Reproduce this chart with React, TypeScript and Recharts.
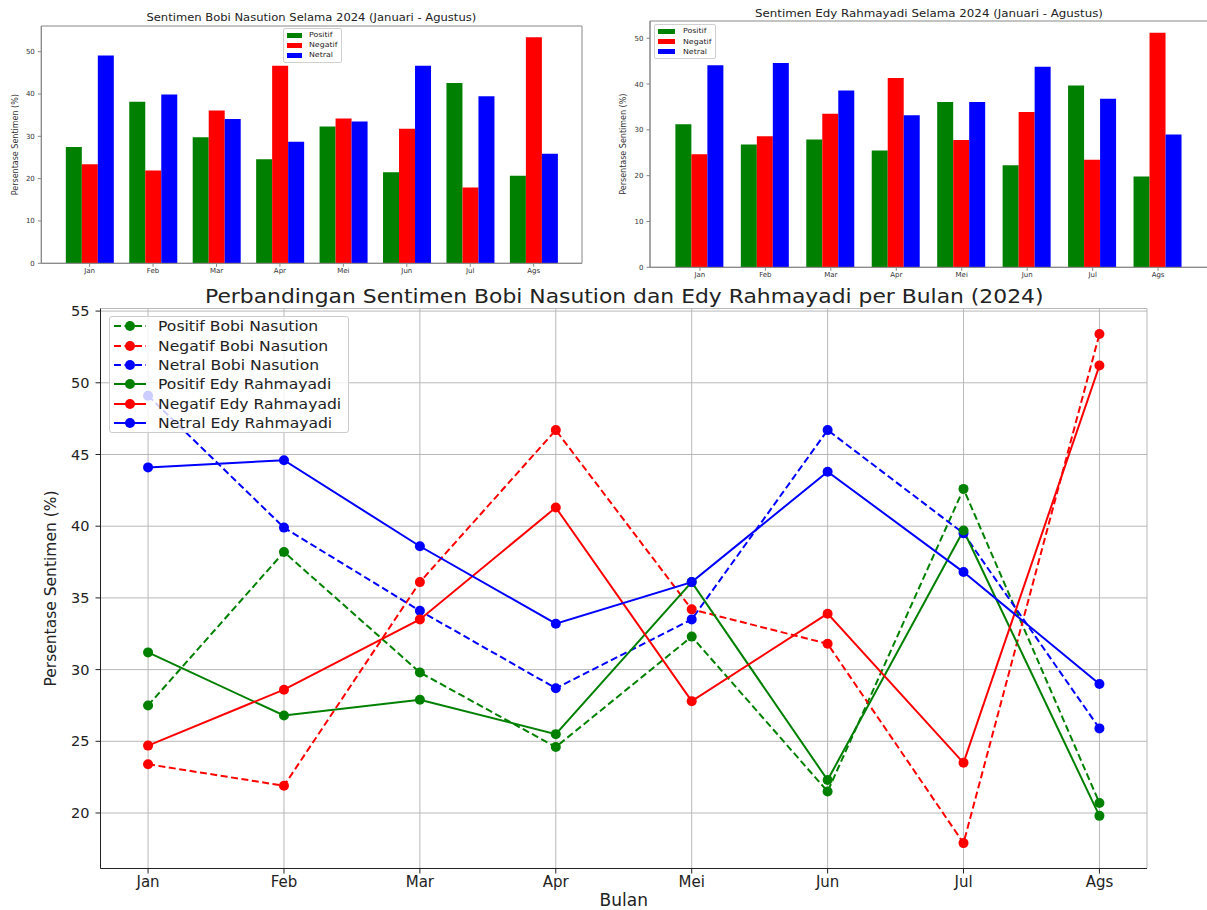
import React from "react";
import {
  BarChart,
  Bar,
  LineChart,
  Line,
  XAxis,
  YAxis,
  CartesianGrid,
  Legend,
} from "recharts";

const MONTHS = ["Jan", "Feb", "Mar", "Apr", "Mei", "Jun", "Jul", "Ags"];

// Bobi Nasution (%)
const BOBI_POSITIF = [27.5, 38.2, 29.8, 24.6, 32.3, 21.5, 42.6, 20.7];
const BOBI_NEGATIF = [23.4, 21.9, 36.1, 46.7, 34.2, 31.8, 17.9, 53.4];
const BOBI_NETRAL = [49.1, 39.9, 34.1, 28.7, 33.5, 46.7, 39.5, 25.9];

// Edy Rahmayadi (%)
const EDY_POSITIF = [31.2, 26.8, 27.9, 25.5, 36.1, 22.3, 39.7, 19.8];
const EDY_NEGATIF = [24.7, 28.6, 33.5, 41.3, 27.8, 33.9, 23.5, 51.2];
const EDY_NETRAL = [44.1, 44.6, 38.6, 33.2, 36.1, 43.8, 36.8, 29.0];

const BAR_TICKS = [0, 10, 20, 30, 40, 50];
const LINE_TICKS = [20, 25, 30, 35, 40, 45, 50, 55];

const FONT = '"DejaVu Sans", sans-serif';
const GREEN = "#008000";
const RED = "#ff0000";
const BLUE = "#0000ff";

const BAR_SERIES = [
  { key: "positif", name: "Positif", color: GREEN },
  { key: "negatif", name: "Negatif", color: RED },
  { key: "netral", name: "Netral", color: BLUE },
];

const LINE_SERIES = [
  { key: "bobiPositif", name: "Positif Bobi Nasution", color: GREEN, dashed: true },
  { key: "bobiNegatif", name: "Negatif Bobi Nasution", color: RED, dashed: true },
  { key: "bobiNetral", name: "Netral Bobi Nasution", color: BLUE, dashed: true },
  { key: "edyPositif", name: "Positif Edy Rahmayadi", color: GREEN, dashed: false },
  { key: "edyNegatif", name: "Negatif Edy Rahmayadi", color: RED, dashed: false },
  { key: "edyNetral", name: "Netral Edy Rahmayadi", color: BLUE, dashed: false },
];

const barRows = (p: number[], n: number[], r: number[]) =>
  MONTHS.map((m, i) => ({ month: m, positif: p[i], negatif: n[i], netral: r[i] }));

const bobiRows = barRows(BOBI_POSITIF, BOBI_NEGATIF, BOBI_NETRAL);
const edyRows = barRows(EDY_POSITIF, EDY_NEGATIF, EDY_NETRAL);

const lineRows = MONTHS.map((m, i) => ({
  idx: i,
  bobiPositif: BOBI_POSITIF[i],
  bobiNegatif: BOBI_NEGATIF[i],
  bobiNetral: BOBI_NETRAL[i],
  edyPositif: EDY_POSITIF[i],
  edyNegatif: EDY_NEGATIF[i],
  edyNetral: EDY_NETRAL[i],
}));

// plot frame (matplotlib-style spines) from the chart's own offset
const frameX = ({ offset }: any) => [offset.left, offset.left + offset.width];
const frameY = ({ offset }: any) => [offset.top, offset.top + offset.height];

function BarLegend({ fontSize, swatchW, rowH, gap, width }: any) {
  return (
    <div
      style={{
        boxSizing: "border-box",
        width,
        border: "1px solid #d0d0d0",
        borderRadius: 2,
        background: "rgba(255,255,255,0.8)",
        padding: "1px 4px 1px 3px",
        fontFamily: FONT,
        fontSize,
        color: "#222",
      }}
    >
      {BAR_SERIES.map((s) => (
        <div key={s.key} style={{ display: "flex", alignItems: "center", height: rowH }}>
          <span style={{ width: swatchW, height: 5, background: s.color, marginRight: gap }} />
          <span style={{ display: "inline-block", transform: "scaleX(1.12)", transformOrigin: "left center" }}>
            {s.name}
          </span>
        </div>
      ))}
    </div>
  );
}

function LineLegend() {
  return (
    <div
      style={{
        boxSizing: "border-box",
        width: 240,
        border: "1px solid #cccccc",
        borderRadius: 3,
        background: "rgba(255,255,255,0.8)",
        padding: "0px 6px 0px 4px",
        fontFamily: FONT,
        fontSize: 14.5,
        color: "#222",
      }}
    >
      {LINE_SERIES.map((s) => (
        <div key={s.key} style={{ display: "flex", alignItems: "center", height: 19.3 }}>
          <svg width={32} height={12} style={{ marginRight: 12, flex: "none" }}>
            <line
              x1={0}
              y1={6}
              x2={32}
              y2={6}
              stroke={s.color}
              strokeWidth={2}
              strokeDasharray={s.dashed ? "7 3.5" : undefined}
            />
            <circle cx={16} cy={6} r={5} fill={s.color} />
          </svg>
          <span
            style={{
              display: "inline-block",
              whiteSpace: "nowrap",
              transform: "scaleX(1.075)",
              transformOrigin: "left center",
            }}
          >
            {s.name}
          </span>
        </div>
      ))}
    </div>
  );
}

type PanelProps = {
  title: string;
  rows: any[];
  yMax: number;
  width: number;
  height: number;
  chartWidth: number;
  axisW: number;
  plotTop: number;
  plotRight: number;
  plotBottom: number;
  pad: number;
  titleTop: number;
  titleSize: number;
  titleStretch: number;
  labelX: number;
  legendTop: number;
  legendLeft: number;
  legendW: number;
  swatchW: number;
  rowH: number;
  gap: number;
};

function BarPanel(p: PanelProps) {
  const tick = { fontSize: 7, fill: "#333", fontFamily: FONT };
  return (
    <div style={{ position: "relative", width: p.width, height: p.height, overflow: "hidden" }}>
      <div
        style={{
          position: "absolute",
          top: p.titleTop,
          left: p.axisW,
          width: p.plotRight - p.axisW,
          textAlign: "center",
          fontFamily: FONT,
          fontSize: p.titleSize,
          lineHeight: "13px",
          color: "#222",
          whiteSpace: "nowrap",
          transform: `scaleX(${p.titleStretch})`,
        }}
      >
        {p.title}
      </div>
      <BarChart
        width={p.chartWidth}
        height={p.height + 20}
        data={p.rows}
        margin={{ top: p.plotTop, right: p.chartWidth - p.plotRight, bottom: 20, left: 0 }}
        barCategoryGap="12.5%"
        barGap={0}
      >
        <CartesianGrid
          stroke="#888"
          strokeWidth={1}
          verticalCoordinatesGenerator={frameX}
          horizontalCoordinatesGenerator={frameY}
        />
        <XAxis
          dataKey="month"
          height={p.height - p.plotBottom}
          padding={{ left: p.pad, right: p.pad }}
          tick={tick}
          tickSize={3.5}
          tickMargin={1}
          stroke="#888"
          interval={0}
        />
        <YAxis
          type="number"
          domain={[0, p.yMax]}
          ticks={BAR_TICKS}
          allowDataOverflow
          width={p.axisW}
          tick={tick}
          tickSize={3.5}
          tickMargin={3}
          stroke="#888"
          label={{
            value: "Persentase Sentimen (%)",
            angle: -90,
            position: "insideLeft",
            offset: p.labelX,
            style: { textAnchor: "middle", fontSize: 8, fill: "#333", fontFamily: FONT },
          }}
        />
        <Legend
          layout="vertical"
          align="center"
          verticalAlign="middle"
          wrapperStyle={{ top: p.legendTop, left: p.legendLeft, width: "auto", height: "auto" }}
          content={() => (
            <BarLegend fontSize={7} swatchW={p.swatchW} rowH={p.rowH} gap={p.gap} width={p.legendW} />
          )}
        />
        {BAR_SERIES.map((s) => (
          <Bar key={s.key} dataKey={s.key} name={s.name} fill={s.color} isAnimationActive={false} />
        ))}
      </BarChart>
    </div>
  );
}

export default function App() {
  const yTick = { fontSize: 14.5, fill: "#222", fontFamily: FONT };
  const xTick = { fontSize: 15, fill: "#222", fontFamily: FONT };
  return (
    <div style={{ position: "absolute", left: 0, top: 0, width: 1207, height: 910, background: "#fff", overflow: "hidden" }}>
      <div style={{ position: "absolute", left: 0, top: 0 }}>
        <BarPanel
          title="Sentimen Bobi Nasution Selama 2024 (Januari - Agustus)"
          rows={bobiRows}
          yMax={56.07}
          width={600}
          height={280}
          chartWidth={600}
          axisW={41.3}
          plotTop={26}
          plotRight={582}
          plotBottom={263.3}
          pad={16.6}
          titleTop={11}
          titleSize={10}
          titleStretch={1.155}
          labelX={15}
          legendTop={28}
          legendLeft={283}
          legendW={59}
          swatchW={15}
          rowH={10.2}
          gap={7}
        />
      </div>
      <div style={{ position: "absolute", left: 600, top: 0 }}>
        <BarPanel
          title="Sentimen Edy Rahmayadi Selama 2024 (Januari - Agustus)"
          rows={edyRows}
          yMax={53.76}
          width={607}
          height={281}
          chartWidth={620}
          axisW={50}
          plotTop={21}
          plotRight={608}
          plotBottom={267.3}
          pad={17.2}
          titleTop={7}
          titleSize={10.5}
          titleStretch={1.127}
          labelX={23}
          legendTop={24}
          legendLeft={54}
          legendW={62}
          swatchW={17}
          rowH={10.4}
          gap={8}
        />
      </div>
      <div style={{ position: "absolute", left: 0, top: 280 }}>
        <div
          style={{
            position: "absolute",
            top: 5,
            left: 100.5,
            width: 1046.5,
            textAlign: "center",
            fontFamily: FONT,
            fontSize: 19,
            lineHeight: "22px",
            color: "#222",
            whiteSpace: "nowrap",
            transform: "scaleX(1.15)",
          }}
        >
          Perbandingan Sentimen Bobi Nasution dan Edy Rahmayadi per Bulan (2024)
        </div>
        <LineChart width={1207} height={630} data={lineRows} margin={{ top: 28.5, right: 60, bottom: 0, left: 0 }}>
          <CartesianGrid stroke="#b8b8b8" strokeWidth={1} />
          <XAxis
            dataKey="idx"
            type="number"
            domain={[-0.35, 7.35]}
            ticks={[0, 1, 2, 3, 4, 5, 6, 7]}
            tickFormatter={(v: number) => MONTHS[v]}
            allowDataOverflow
            height={41.5}
            tick={xTick}
            tickSize={5}
            tickMargin={3}
            stroke="#222"
            label={{
              value: "Bulan",
              position: "insideBottom",
              offset: 4,
              style: { fontSize: 17, fill: "#222", fontFamily: FONT },
            }}
          />
          <XAxis xAxisId="top" orientation="top" dataKey="idx" type="number" domain={[-0.35, 7.35]} height={0} tick={false} tickLine={false} stroke="#222" />
          <YAxis
            type="number"
            domain={[16.13, 55.18]}
            ticks={LINE_TICKS}
            allowDataOverflow
            width={100.5}
            tick={yTick}
            tickSize={5}
            tickMargin={6}
            stroke="#222"
            label={{
              value: "Persentase Sentimen (%)",
              angle: -90,
              position: "insideLeft",
              offset: 50,
              style: { textAnchor: "middle", fontSize: 15.5, fill: "#222", fontFamily: FONT },
            }}
          />
          <YAxis yAxisId="right" orientation="right" domain={[16.13, 55.18]} width={0} tick={false} tickLine={false} stroke="#222" />
          {LINE_SERIES.map((s) => (
            <Line
              key={s.key}
              dataKey={s.key}
              name={s.name}
              stroke={s.color}
              strokeWidth={2}
              strokeDasharray={s.dashed ? "7 3.5" : undefined}
              dot={{ r: 5, fill: s.color, stroke: s.color, strokeWidth: 0 }}
              activeDot={false}
              isAnimationActive={false}
            />
          ))}
          <Legend
            layout="vertical"
            align="center"
            verticalAlign="middle"
            wrapperStyle={{ top: 35.7, left: 109, width: "auto", height: "auto" }}
            content={() => <LineLegend />}
          />
        </LineChart>
      </div>
    </div>
  );
}
